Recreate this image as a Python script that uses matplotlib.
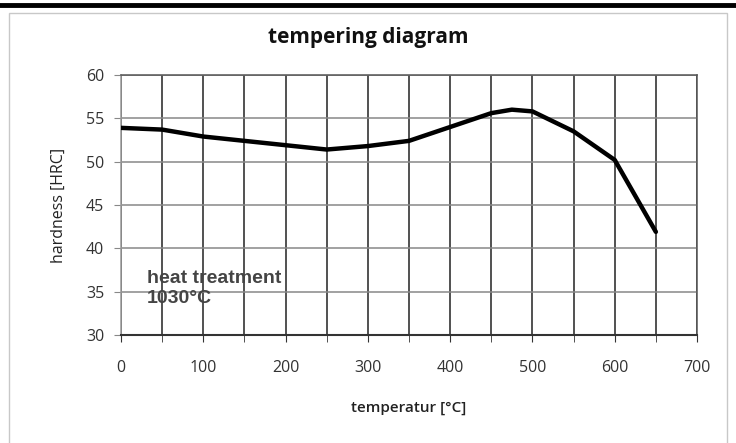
import numpy as np
import matplotlib.pyplot as plt
from matplotlib.patches import Rectangle
from matplotlib.lines import Line2D

temp = [0, 50, 100, 150, 200, 250, 300, 350, 400, 450, 475, 500, 550, 600, 650]
hrc = [53.9, 53.7, 52.9, 52.4, 51.9, 51.4, 51.8, 52.4, 54.0, 55.6, 56.0, 55.8, 53.5, 50.2, 41.9]

W, H = 736, 443
fig = plt.figure(figsize=(W/100, H/100), dpi=100)
fig.patch.set_facecolor('white')

# frame of the picture
fig.add_artist(Line2D([0, 1], [1-4.5/H, 1-4.5/H], color='black', lw=3.5, transform=fig.transFigure))
fig.add_artist(Rectangle((9/W, -0.01), (727-9)/W, (H-13)/H+0.01, transform=fig.transFigure,
                         fill=False, ec='#c8c8c8', lw=1.0))

ax = fig.add_axes([121/W, 1-335/H, (697-121)/W, (335-75)/H])
ax.plot(temp, hrc, color='black', lw=3.2, solid_joinstyle='round', solid_capstyle='round', zorder=3)

ax.set_xlim(0, 700)
ax.set_ylim(30, 60)
ax.set_xticks(range(0, 701, 100))
ax.set_xticks(range(0, 701, 50), minor=True)
ax.set_yticks(range(30, 61, 5))
ax.grid(axis='x', which='both', color='#222222', lw=1.1)
ax.grid(axis='y', which='major', color='#888888', lw=1.1)
for s in ax.spines.values():
    s.set_color('#555555')
    s.set_linewidth(1.1)
ax.spines['left'].set_color('#999999')
ax.spines['bottom'].set_color('#333333')
ax.spines['bottom'].set_linewidth(1.5)

ax.tick_params(axis='x', which='both', length=5, color='#333333', labelsize=11.5, pad=13, labelcolor='#333333')
ax.tick_params(axis='y', length=5, color='#888888', labelsize=11.5, pad=7, labelcolor='#333333')
for lab in ax.get_xticklabels() + ax.get_yticklabels():
    lab.set_family('Open Sans')

ax.set_xlabel('temperatur [°C]', family='Open Sans', fontsize=11, fontweight='semibold', labelpad=18, color='#222222')
ax.set_ylabel('hardness [HRC]', family='Open Sans', fontsize=11.5, labelpad=14, color='#222222')
fig.text(0.5, 1-37/H, 'tempering diagram', ha='center', va='center', family='Open Sans',
         fontsize=15, fontweight='bold', color='#111111')

ax.text(31, 35.4, 'heat treatment\n1030°C', family='Liberation Sans', fontsize=14, fontweight='bold',
        color='#444444', linespacing=1.2, va='center', ha='left')

fig.savefig('out.png', dpi=100)
